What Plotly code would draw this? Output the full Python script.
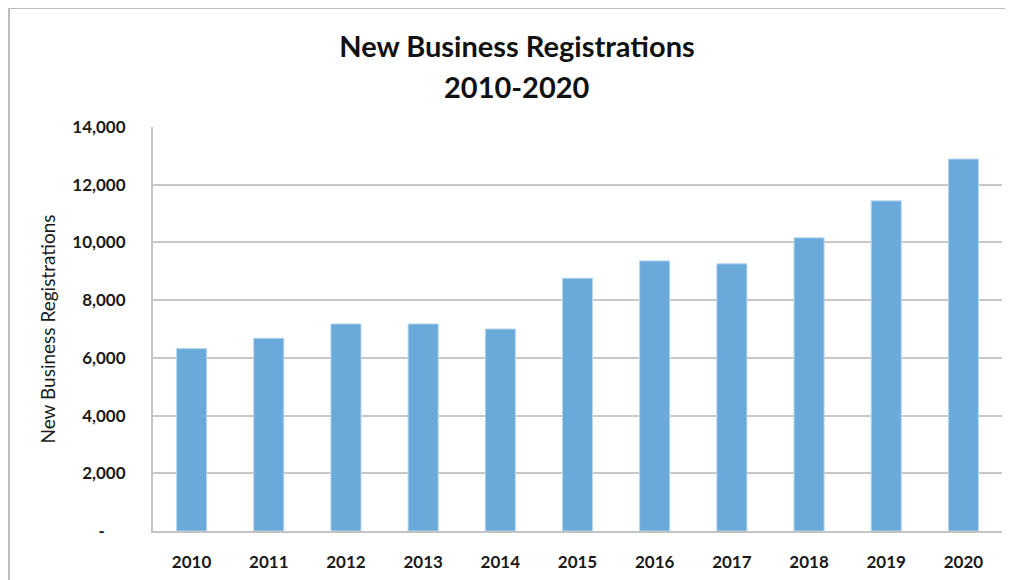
import plotly.graph_objects as go

years = ["2010", "2011", "2012", "2013", "2014", "2015", "2016", "2017", "2018", "2019", "2020"]
registrations = [6320, 6680, 7175, 7175, 7000, 8760, 9360, 9260, 10160, 11440, 12890]
y_tickvals = [0, 2000, 4000, 6000, 8000, 10000, 12000, 14000]
y_ticktext = ["-     ", "2,000", "4,000", "6,000", "8,000", "10,000", "12,000", "14,000"]

FONT = "Lato"
W, H = 1013, 580
OFF = 8  # page body margin
L, T = 153 - OFF, 127 - OFF
R = W - (1002 - OFF)
B = H - (531 - OFF)
pw, ph = W - L - R, H - T - B

def px_x(x):
    return (x - OFF - L) / pw

def px_y(y):
    return 1 - (y - OFF - T) / ph

fig = go.Figure()
fig.add_trace(go.Bar(
    x=years, y=registrations,
    marker=dict(color="#6aaadb", line=dict(color="#b9d7ef", width=1)),
    width=0.39,
))

fig.update_layout(
    width=W, height=H,
    margin=dict(l=L, r=R, t=T, b=B),
    paper_bgcolor="white", plot_bgcolor="white",
    font=dict(family=FONT, color="#1a1a1a"),
    showlegend=False,
    title=dict(text="<b>New Business Registrations</b>", x=(517 - OFF) / W, xanchor="center",
               y=1 - (47 - OFF) / H, yanchor="middle", font=dict(size=29, family=FONT, color="#111")),
    annotations=[dict(text="<b>2010-2020</b>", xref="paper", yref="paper",
                      x=px_x(517), y=px_y(87), xanchor="center", yanchor="middle",
                      showarrow=False, font=dict(size=29, family=FONT, color="#111"))],
    shapes=[dict(type="rect", xref="paper", yref="paper",
                 x0=px_x(9), x1=px_x(1030), y0=px_y(600), y1=px_y(8),
                 line=dict(color="#bdbdbd", width=2), fillcolor="rgba(0,0,0,0)", layer="below")],
)

fig.update_xaxes(
    showline=True, linecolor="#c4c4c4", linewidth=2,
    showgrid=False, ticks="", tickfont=dict(size=17, family=FONT, color="#1a1a1a", weight="bold"),
    ticklabelstandoff=15,
)
fig.update_yaxes(
    range=[0, 14000], tickvals=y_tickvals, ticktext=y_ticktext,
    showline=True, linecolor="#c4c4c4", linewidth=2,
    showgrid=True, gridcolor="#c8c8c8", gridwidth=2,
    zeroline=False, ticks="", tickfont=dict(size=17, family=FONT, color="#1a1a1a", weight="bold"),
    ticklabelstandoff=22,
    title=dict(text="New Business Registrations", font=dict(size=19, family=FONT, color="#1a1a1a"), standoff=12),
)

fig.write_html("out.html")
